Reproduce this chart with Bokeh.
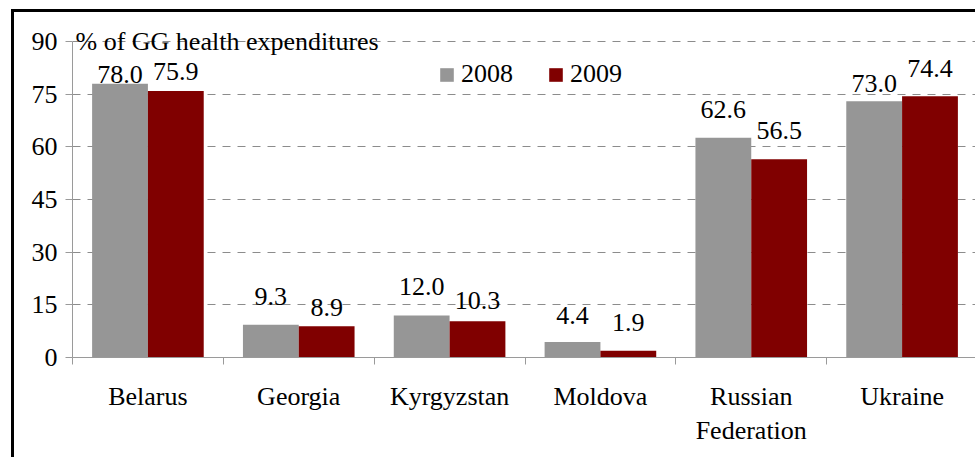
import numpy as np
from bokeh.plotting import figure
from bokeh.models import (ColumnDataSource, FixedTicker, Legend, LegendItem, Label,
                          Range1d)
from bokeh.core.properties import value
from bokeh.embed import file_html
from bokeh.resources import INLINE

# ---- data ----
categories = ["Belarus", "Georgia", "Kyrgyzstan", "Moldova", "Russian\nFederation", "Ukraine"]
series_names = ["2008", "2009"]
values_2008 = [78.0, 9.3, 12.0, 4.4, 62.6, 73.0]
values_2009 = [75.9, 8.9, 10.3, 1.9, 56.5, 74.4]
y_ticks = [0, 15, 30, 45, 60, 75, 90]
axis_title = "% of GG health expenditures"

# label nudges (pixels above bar top), as placed in the original
gap_2008 = [1, 20, 21, 19, 20, 10]
gap_2009 = [12, 11, 13, 20, 21, 20]

FONT = "'Liberation Serif', 'Times New Roman', serif"
FS = "26px"
GRAY = "#969696"
RED = "#800000"
AX = "#9a9a9a"
BASE_SHIFT = 8  # compensates the glyph baseline placement

n = len(categories)
centers = np.arange(n) + 0.5
bw = 0.37
off = 0.185

p = figure(width=964, height=448, output_backend="svg", toolbar_location=None,
           x_range=Range1d(0, n), y_range=Range1d(0, 96),
           min_border_left=58, min_border_right=1, min_border_top=8, min_border_bottom=103)
p.margin = (9, 0, 0, 11)
p.styles = {"border-top": "3px solid black", "border-left": "3px solid black"}
p.outline_line_color = None
p.background_fill_color = "white"
p.border_fill_color = "white"

src1 = ColumnDataSource(dict(x=centers - off, top=values_2008,
                             lab=[f"{v:.1f}" for v in values_2008],
                             yo=[-(g + BASE_SHIFT) for g in gap_2008]))
src2 = ColumnDataSource(dict(x=centers + off, top=values_2009,
                             lab=[f"{v:.1f}" for v in values_2009],
                             yo=[-(g + BASE_SHIFT) for g in gap_2009]))

r1 = p.vbar(x="x", top="top", width=bw, bottom=0, source=src1, fill_color=GRAY, line_color=None)
r2 = p.vbar(x="x", top="top", width=bw, bottom=0, source=src2, fill_color=RED, line_color=None)

for s in (src1, src2):
    p.text(x="x", y="top", text="lab", source=s, y_offset="yo",
           text_font=value("serif"), text_font_size=FS, text_align="center",
           text_baseline="alphabetic", text_color="black")

# axes
p.xaxis.ticker = FixedTicker(ticks=list(centers), minor_ticks=list(range(n + 1)))
p.xaxis.major_label_overrides = {float(c): lab for c, lab in zip(centers, categories)}
p.xaxis.major_tick_in = 0
p.xaxis.major_tick_out = 0
p.xaxis.minor_tick_in = 0
p.xaxis.minor_tick_out = 7
p.xaxis.minor_tick_line_color = AX
p.xaxis.axis_line_color = AX
p.xaxis.major_label_standoff = 17
p.xaxis.major_label_text_font = FONT
p.xaxis.major_label_text_font_size = FS
p.xaxis.major_label_text_color = "black"

p.yaxis.ticker = FixedTicker(ticks=y_ticks)
p.yaxis.bounds = (0, 90)
p.yaxis.major_tick_in = 0
p.yaxis.major_tick_out = 7
p.yaxis.minor_tick_line_color = None
p.yaxis.major_tick_line_color = AX
p.yaxis.axis_line_color = AX
p.yaxis.major_label_standoff = 8
p.yaxis.major_label_text_font = FONT
p.yaxis.major_label_text_font_size = FS
p.yaxis.major_label_text_color = "black"

p.xgrid.grid_line_color = None
p.ygrid.ticker = FixedTicker(ticks=y_ticks[1:])
p.ygrid.grid_line_color = "#8c8c8c"
p.ygrid.grid_line_dash = "8 7"
p.ygrid.grid_line_width = 1

p.add_layout(Label(x=0, y=90, text=axis_title, x_offset=3, text_baseline="middle",
                   text_font=FONT, text_font_size=FS, text_color="black"))

legend = Legend(items=[LegendItem(label=series_names[0], renderers=[r1]),
                       LegendItem(label=series_names[1], renderers=[r2])],
                orientation="horizontal", location=(366, 268),
                glyph_width=17, glyph_height=17, label_standoff=6, spacing=34,
                padding=0, margin=0, border_line_color=None, background_fill_alpha=0,
                label_text_font=FONT, label_text_font_size=FS, label_text_color="black")
p.add_layout(legend)

open("out.html", "w").write(file_html(p, INLINE))
